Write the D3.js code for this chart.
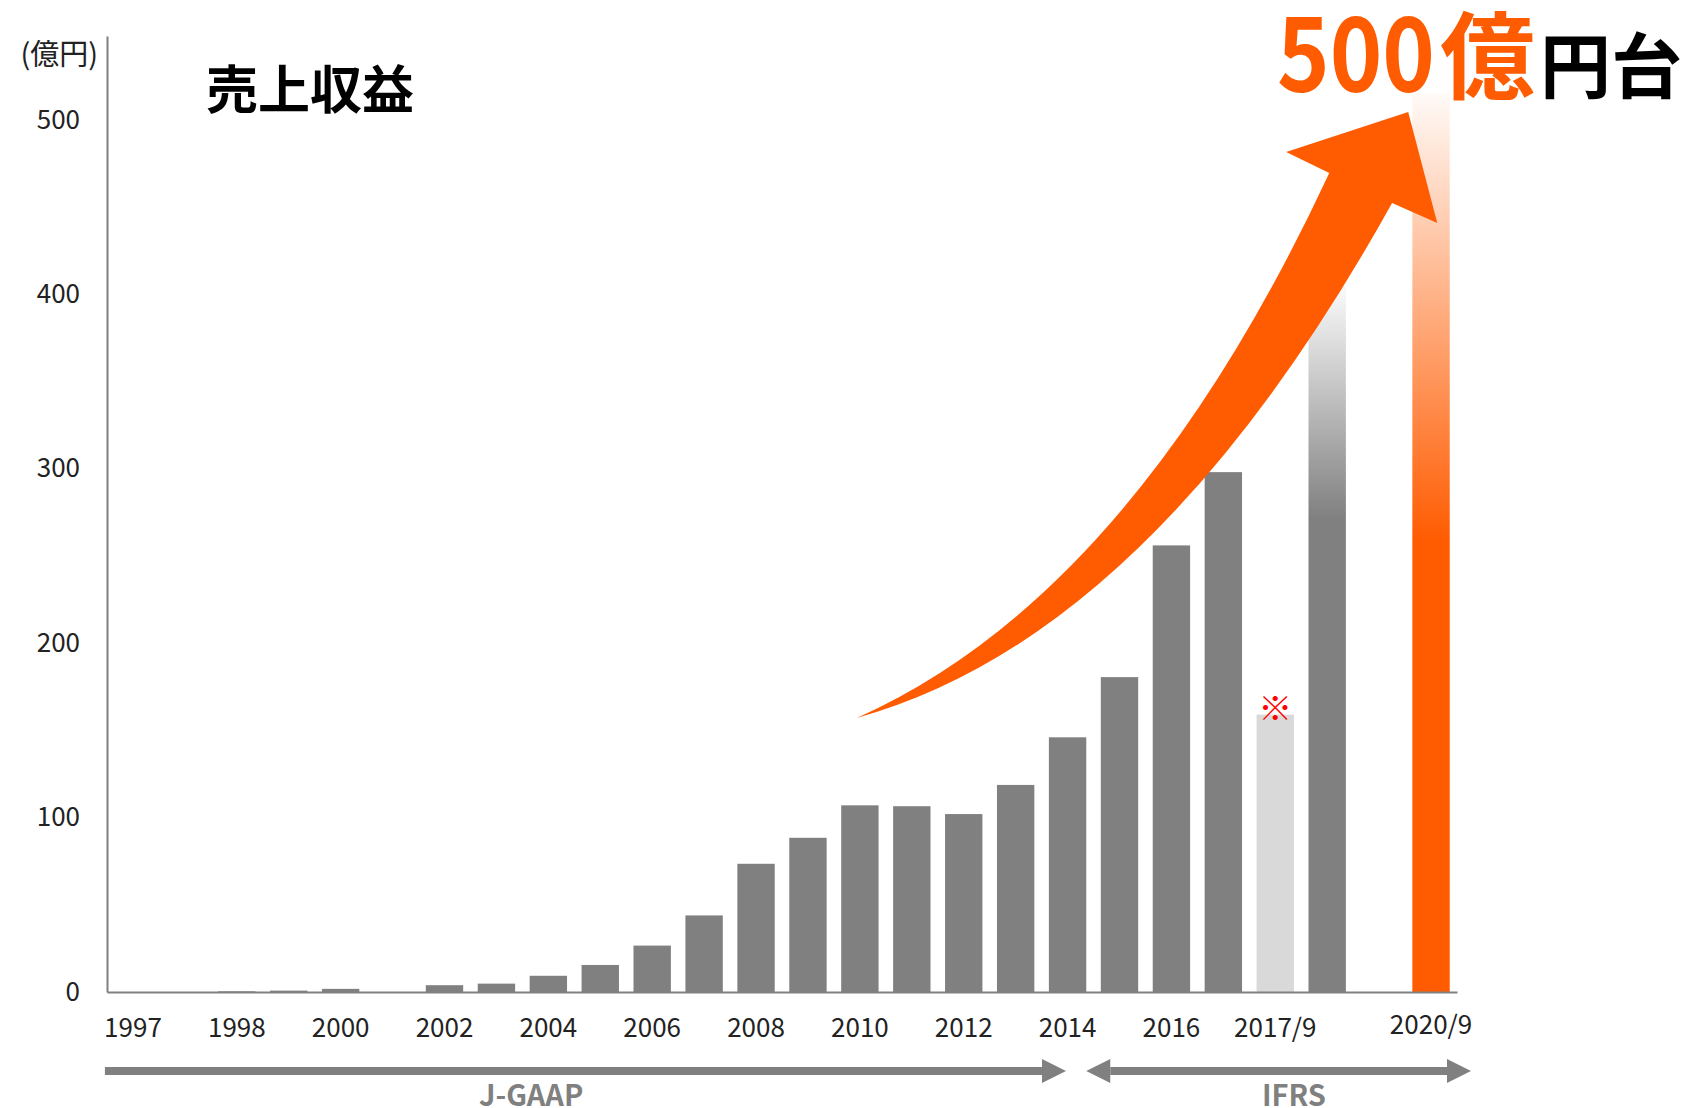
<!DOCTYPE html>
<html>
<head>
<meta charset="utf-8">
<script src="https://cdn.jsdelivr.net/npm/d3@7"></script>
<style>
  html, body { margin: 0; padding: 0; background: #fff; }
  svg { display: block; font-family: "Noto Sans CJK JP", "Noto Sans", sans-serif; }
</style>
</head>
<body>
<svg id="chart" width="1688" height="1108"></svg>
<script>
// tick labels under each bar ("" = no label)
var categories = ["1997", "", "1998", "", "2000", "", "2002", "", "2004", "", "2006", "",
                  "2008", "", "2010", "", "2012", "", "2014", "", "2016", "", "2017/9", "", "", "2020/9"];
// 売上収益 (億円)
var revenue = [0, 0, 0.4, 0.8, 1.8, 0, 3.9, 4.8, 9.3, 15.5, 26.6, 43.9,
               73.5, 88.4, 107, 106.5, 102, 118.7, 146, 180.5, 256, 298, 159, 405, 0, 515];
// actual / ref (※) / fade (見込) / goal
var barKind = ["actual", "actual", "actual", "actual", "actual", "actual", "actual", "actual",
               "actual", "actual", "actual", "actual", "actual", "actual", "actual", "actual",
               "actual", "actual", "actual", "actual", "actual", "actual", "ref", "fade", "actual", "goal"];
var yTicks = [0, 100, 200, 300, 400, 500];

// accounting standard eras, in bar-index units
var eraNames = ["J-GAAP", "IFRS"];
var eraFrom = [-0.54, 18.36];
var eraTo = [17.97, 25.77];
var eraLabelAt = [7.67, 22.36];
var eraDouble = [false, true];

// growth arrow, in (bar index, 億円) units
var arrowTail = [13.94, 157.1];
var arrowUpperCtrl = [19.26, 227.6];
var arrowLeftNotch = [23.04, 469.5];
var arrowLeftBarb = [22.21, 481.5];
var arrowTip = [24.56, 504.4];
var arrowRightBarb = [25.12, 440.8];
var arrowRightNotch = [24.25, 452.3];
var arrowLowerCtrl = [19.61, 203.8];

var orange = "#ff5b00";
var gray = "#808080";

var svg = d3.select("#chart");

var x = d3.scaleBand()
    .domain(d3.range(categories.length))
    .range([107, 1457])
    .paddingInner(0.28)
    .paddingOuter(0.14);

var y = d3.scaleLinear().domain([0, 548]).range([992, 36]);

var xi = d3.scaleLinear()
    .domain([0, categories.length - 1])
    .range([x(0) + x.bandwidth() / 2, x(categories.length - 1) + x.bandwidth() / 2]);

// gradients
var defs = svg.append("defs");
function fade(id, color, solidAt) {
    var g = defs.append("linearGradient").attr("id", id)
        .attr("x1", 0).attr("y1", 0).attr("x2", 0).attr("y2", 1);
    g.append("stop").attr("offset", 0).attr("stop-color", color).attr("stop-opacity", 0.03);
    g.append("stop").attr("offset", solidAt).attr("stop-color", color).attr("stop-opacity", 1);
    g.append("stop").attr("offset", 1).attr("stop-color", color).attr("stop-opacity", 1);
}
fade("fadeGray", gray, 0.33);
fade("fadeOrange", orange, 0.5);

function barFill(k) {
    if (k == "ref") return "#d9d9d9";
    if (k == "fade") return "url(#fadeGray)";
    if (k == "goal") return "url(#fadeOrange)";
    return gray;
}

// bars
svg.append("g")
    .selectAll("rect")
    .data(revenue)
    .enter()
    .append("rect")
        .attr("x", (d, i) => x(i))
        .attr("y", d => y(d))
        .attr("width", x.bandwidth())
        .attr("height", d => y(0) - y(d))
        .attr("fill", (d, i) => barFill(barKind[i]));

// ※ mark over the reference bar
revenue.forEach(function(v, i) {
    if (barKind[i] != "ref") return;
    svg.append("text")
        .attr("x", xi(i))
        .attr("y", y(v) - 6)
        .attr("dy", "0.36em")
        .attr("text-anchor", "middle")
        .attr("font-size", "34px")
        .attr("font-weight", "bold")
        .attr("fill", "#ff0000")
        .text("※");
});

// axes
var yAxis = svg.append("g")
    .attr("transform", "translate(107,0)")
    .call(d3.axisLeft(y).tickValues(yTicks).tickSize(0).tickSizeOuter(0).tickPadding(27));

var xAxis = svg.append("g")
    .attr("transform", "translate(0," + y(0) + ")")
    .call(d3.axisBottom(x).tickSize(0).tickSizeOuter(0).tickPadding(27)
        .tickFormat(i => categories[i]));

[yAxis, xAxis].forEach(function(a) {
    a.select(".domain").attr("stroke", gray).attr("stroke-width", 2);
    a.selectAll("text")
        .attr("font-family", "'Noto Sans CJK JP', 'Noto Sans', sans-serif")
        .attr("font-size", "26px")
        .attr("fill", "#222");
});
// the last label sits a touch higher
xAxis.selectAll(".tick")
    .filter(d => d == categories.length - 1)
    .select("text")
    .attr("y", 24);

svg.append("text")
    .attr("x", 98)
    .attr("y", 65)
    .attr("text-anchor", "end")
    .attr("font-size", "29px")
    .attr("fill", "#222")
    .text("(億円)");

// title
svg.append("text")
    .attr("x", 206)
    .attr("y", 109)
    .attr("font-size", "52px")
    .attr("font-weight", "bold")
    .attr("fill", "#000")
    .text("売上収益");

// growth arrow
function px(p) { return [xi(p[0]), y(p[1])]; }
var ap = d3.path();
var t = px(arrowTail), uc = px(arrowUpperCtrl), ln = px(arrowLeftNotch),
    lb = px(arrowLeftBarb), tp = px(arrowTip), rb = px(arrowRightBarb),
    rn = px(arrowRightNotch), lc = px(arrowLowerCtrl);
ap.moveTo(t[0], t[1]);
ap.quadraticCurveTo(uc[0], uc[1], ln[0], ln[1]);
ap.lineTo(lb[0], lb[1]);
ap.lineTo(tp[0], tp[1]);
ap.lineTo(rb[0], rb[1]);
ap.lineTo(rn[0], rn[1]);
ap.quadraticCurveTo(lc[0], lc[1], t[0], t[1]);
ap.closePath();
svg.append("path")
    .attr("d", ap.toString())
    .attr("fill", orange);

// 500億円台 (the digits are narrow in the original, so squeeze them)
var big = svg.append("text")
    .attr("font-size", "104px")
    .attr("font-weight", "bold")
    .attr("fill", orange)
    .text("500");
var bigW = big.node().getComputedTextLength();
big.attr("transform", "translate(1277,92) scale(" + (158 / bigW) + ",1)");

svg.append("text")
    .attr("x", 1440)
    .attr("y", 92)
    .attr("font-size", "95px")
    .attr("font-weight", "bold")
    .attr("fill", orange)
    .text("億");
svg.append("text")
    .attr("x", 1540)
    .attr("y", 92)
    .attr("font-size", "71px")
    .attr("font-weight", "bold")
    .attr("fill", "#000")
    .text("円台");

// J-GAAP / IFRS arrows
var eraY = 1071;
eraNames.forEach(function(name, k) {
    var x0 = xi(eraFrom[k]), x1 = xi(eraTo[k]);
    var head = 24, half = 12, thick = 4;
    var g = svg.append("g").attr("fill", gray);
    var left = eraDouble[k] ? x0 + head : x0;
    g.append("rect")
        .attr("x", left)
        .attr("y", eraY - thick)
        .attr("width", (x1 - head) - left)
        .attr("height", thick * 2);
    g.append("path")
        .attr("d", "M" + (x1 - head) + "," + (eraY - half) + "L" + x1 + "," + eraY +
                   "L" + (x1 - head) + "," + (eraY + half) + "Z");
    if (eraDouble[k]) {
        g.append("path")
            .attr("d", "M" + (x0 + head) + "," + (eraY - half) + "L" + x0 + "," + eraY +
                       "L" + (x0 + head) + "," + (eraY + half) + "Z");
    }
    svg.append("text")
        .attr("x", xi(eraLabelAt[k]))
        .attr("y", 1106)
        .attr("text-anchor", "middle")
        .attr("font-size", "29px")
        .attr("font-weight", "bold")
        .attr("fill", gray)
        .text(name);
});
</script>
</body>
</html>
